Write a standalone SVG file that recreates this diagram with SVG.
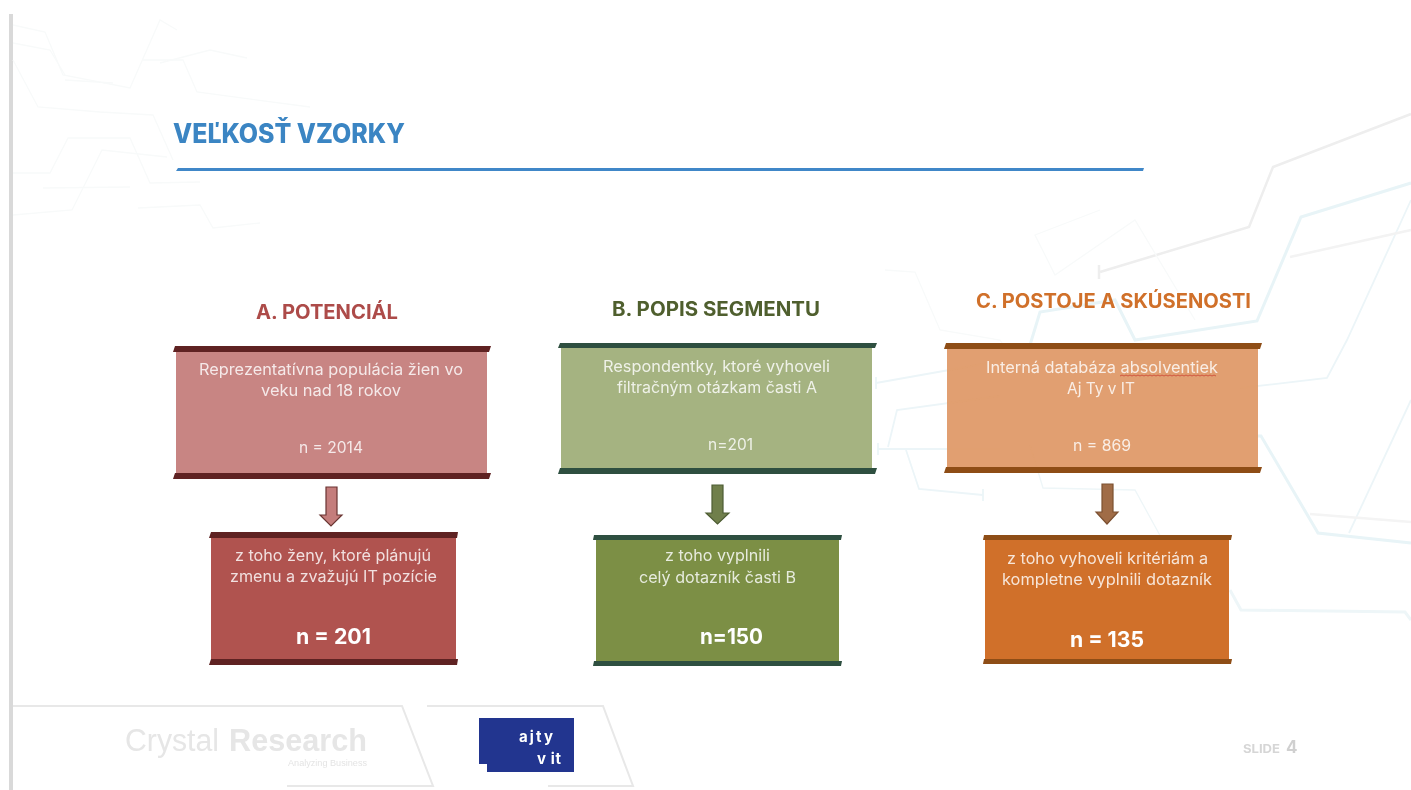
<svg xmlns="http://www.w3.org/2000/svg" width="1411" height="790" viewBox="0 0 1411 790">
<style>
text{font-family:"Inter","Liberation Sans",sans-serif}
.t{fill:#fff;fill-opacity:.82;font-size:15.5px}
.n{fill:#fff;font-size:21.5px;font-weight:700}
.h{font-size:19.500px;font-weight:700}
.l{font-family:"Liberation Sans",sans-serif;fill:#e6e6e6}
.bgb{fill:none;stroke:#e8f4f7;stroke-width:3}
.bgt{fill:none;stroke:#ecf5f8;stroke-width:1.8}
.bgg{fill:none;stroke:#eeeeee;stroke-width:2.5}
.faint{fill:none;stroke:#f8fafa;stroke-width:1.3}
.foot{fill:none;stroke:#e8e8e8;stroke-width:2}
.a{stroke-width:1.2}
</style>
<defs>
<filter id="soft" x="-2%" y="-2%" width="104%" height="104%"><feGaussianBlur stdDeviation="0.45"/></filter>
</defs>
<rect width="1411" height="790" fill="#fff"/>
<g filter="url(#soft)">
<g id="background">
<rect x="9" y="14" width="4" height="776" fill="#d9d9d9"/>
<polyline class="bgg" points="1100,272 1249,227 1273,167 1411,114"/>
<path class="bgg" d="M1099,265V279" stroke-width="4"/>
<polyline class="bgb" points="1411,183 1301,217 1257,321 1135,340 1115,300 1040,312 1030,345"/>
<polyline class="bgt" points="1411,200 1347,340 1327,378 1240,388" stroke-width="3"/>
<polyline class="bgt" points="876,383 1000,361" stroke-width="2.500"/>
<polyline class="bgt" points="1000,396 897,410 888,447" stroke-width="2.500"/>
<polyline class="bgt" points="878,449 1000,449" stroke-width="2.500"/>
<polyline class="bgb" stroke-width="2.500" points="1258,436 1261,436 1318,533 1411,543"/>
<polyline class="bgt" points="1349,533 1411,400"/>
<polyline class="faint" style="stroke:#f4f4f4;stroke-width:2.5" points="1310,514 1411,522"/>
<polyline class="bgb" style="stroke:#eef6f8" points="1230,590 1241,610 1405,612 1411,620"/>
<polyline class="bgt" points="906,450 919,489 983,495"/>
<path class="bgt" d="M983,489V501M876,377V389M878,443V455"/>
<polyline class="faint" style="stroke:#eef6f8" points="1030,445 1043,488 1135,490 1190,590"/>
<polyline class="faint" points="1100,210 1035,235 1055,275 1135,220 1195,320"/>
<polyline class="faint" points="885,270 915,272 940,330 1000,340 1010,355"/>
<polyline class="bgg" style="stroke:#f3f3f3" points="1290,257 1411,230"/>
<polyline class="faint" points="13,25 45,32 63,75 130,88 160,20 177,30"/>
<polyline class="faint" points="13,43 50,50 65,75"/>
<polyline class="faint" points="13,60 38,107 100,112 153,115 173,160"/>
<polyline class="faint" points="13,173 50,173 68,138 130,138 150,183 200,182"/>
<polyline class="faint" points="43,188 130,187"/>
<polyline class="faint" points="13,215 72,210 102,150 167,157"/>
<polyline class="faint" points="143,60 183,60 197,92 310,107"/>
<polyline class="faint" points="160,63 210,50 247,58"/>
<polyline class="faint" points="138,208 200,205 213,228 260,223"/>
<polyline class="faint" points="65,80 113,83"/>
</g>
<g id="title">
<text x="173" y="143" font-size="26.500" font-weight="800" fill="#3a85c3" textLength="232" lengthAdjust="spacingAndGlyphs">VEĽKOSŤ VZORKY</text>
<polygon points="178,168 1144,168 1143,171 176,171" fill="#3f87c8"/>
</g>
<g id="connectors">
<polygon class="a" points="326,487 337,487 337,515 342,515 331,526 320,515 326,515" fill="#c47d7b" stroke="#6a3533"/>
<polygon class="a" points="712,485 723,485 723,513 729,513 717.500,524 706,513 712,513" fill="#707f4c" stroke="#4d5c33"/>
<polygon class="a" points="1102,484 1113,484 1113,512 1118,512 1107,524 1096,512 1102,512" fill="#a06c47" stroke="#7c5030"/>
</g>
<g id="header-a"><text class="h" x="256" y="319" fill="#ad4c4a" textLength="142" lengthAdjust="spacingAndGlyphs">A. POTENCIÁL</text></g>
<g id="header-b"><text class="h" x="612" y="316" fill="#4f5f2e" textLength="208" lengthAdjust="spacingAndGlyphs">B. POPIS SEGMENTU</text></g>
<g id="header-c"><text class="h" x="976" y="308" fill="#d07029" textLength="275" lengthAdjust="spacingAndGlyphs">C. POSTOJE A SKÚSENOSTI</text></g>

<g id="node-a1">
<rect x="176" y="348" width="311" height="128" fill="#c88583"/>
<polygon points="175,346 491,346 489,352 173,352" fill="#5f2220"/>
<polygon points="175,473 491,473 489,479 173,479" fill="#5f2220"/>
<text class="t" x="199" y="375" textLength="264" lengthAdjust="spacingAndGlyphs">Reprezentatívna populácia žien vo</text>
<text class="t" x="261" y="396" textLength="140" lengthAdjust="spacingAndGlyphs">veku nad 18 rokov</text>
<text class="t" x="299" y="453" textLength="64" lengthAdjust="spacingAndGlyphs">n = 2014</text>
</g>
<g id="node-a2">
<rect x="211" y="534" width="245" height="128" fill="#b0524f"/>
<polygon points="211,532 458,532 457,538 209,538" fill="#5f2220"/>
<polygon points="211,659 458,659 457,665 209,665" fill="#5f2220"/>
<text class="t" x="235" y="561" textLength="196" lengthAdjust="spacingAndGlyphs">z toho ženy, ktoré plánujú</text>
<text class="t" x="230" y="582" textLength="207" lengthAdjust="spacingAndGlyphs">zmenu a zvažujú IT pozície</text>
<text class="n" x="296" y="644" textLength="75" lengthAdjust="spacingAndGlyphs">n = 201</text>
</g>

<g id="node-b1">
<rect x="561" y="345" width="311" height="126" fill="#a5b381"/>
<polygon points="560,343 877,343 875,348 558,348" fill="#2f5040"/>
<polygon points="560,468 877,468 875,474 558,474" fill="#2f5040"/>
<text class="t" x="603" y="372" textLength="227" lengthAdjust="spacingAndGlyphs">Respondentky, ktoré vyhoveli</text>
<text class="t" x="617" y="393" textLength="200" lengthAdjust="spacingAndGlyphs">filtračným otázkam časti A</text>
<text class="t" x="708" y="450" textLength="45" lengthAdjust="spacingAndGlyphs">n=201</text>
</g>
<g id="node-b2">
<rect x="596" y="537" width="243" height="127" fill="#7b8f45"/>
<polygon points="594,535 842,535 841,540 593,540" fill="#2f5040"/>
<polygon points="594,661 842,661 841,666 593,666" fill="#2f5040"/>
<text class="t" x="665" y="561" textLength="105" lengthAdjust="spacingAndGlyphs">z toho vyplnili</text>
<text class="t" x="639" y="583" textLength="157" lengthAdjust="spacingAndGlyphs">celý dotazník časti B</text>
<text class="n" x="700" y="644" textLength="63" lengthAdjust="spacingAndGlyphs">n=150</text>
</g>

<g id="node-c1">
<rect x="947" y="346" width="311" height="124" fill="#e09c6b" fill-opacity=".97"/>
<polygon points="946,343 1262,343 1260,349 944,349" fill="#8e4d17"/>
<polygon points="946,467 1262,467 1260,473 944,473" fill="#8e4d17"/>
<text class="t" x="986" y="373" textLength="232" lengthAdjust="spacingAndGlyphs">Interná databáza absolventiek</text>
<path d="M1120,376 l2,-1 2,1 2,-1 2,1 2,-1 2,1 2,-1 2,1 2,-1 2,1 2,-1 2,1 2,-1 2,1 2,-1 2,1 2,-1 2,1 2,-1 2,1 2,-1 2,1 2,-1 2,1 2,-1 2,1 2,-1 2,1 2,-1 2,1 2,-1 2,1 2,-1 2,1 2,-1 2,1 2,-1 2,1 2,-1 2,1 2,-1 2,1 2,-1 2,1 2,-1 2,1 2,-1 2,1" fill="none" stroke="#d0563f" stroke-width="1"/>
<text class="t" x="1067" y="394" textLength="68" lengthAdjust="spacingAndGlyphs">Aj Ty v IT</text>
<text class="t" x="1073" y="451" textLength="58" lengthAdjust="spacingAndGlyphs">n = 869</text>
</g>
<g id="node-c2">
<rect x="985" y="537" width="244" height="125" fill="#d0702a"/>
<polygon points="984,535 1232,535 1231,540 983,540" fill="#8e4d17"/>
<polygon points="984,659 1232,659 1231,664 983,664" fill="#8e4d17"/>
<text class="t" x="1007" y="564" textLength="201" lengthAdjust="spacingAndGlyphs">z toho vyhoveli kritériám a</text>
<text class="t" x="1002" y="585" textLength="210" lengthAdjust="spacingAndGlyphs">kompletne vyplnili dotazník</text>
<text class="n" x="1070" y="647" textLength="74" lengthAdjust="spacingAndGlyphs">n = 135</text>
</g>

<g id="footer">
<polyline class="foot" points="13,706 402,706 433,786 287,786"/>
<polyline class="foot" points="427,706 603,706 633,786 548,786"/>
<text class="l" x="125" y="751" font-size="31" textLength="94" lengthAdjust="spacingAndGlyphs">Crystal</text>
<text class="l" x="229" y="751" font-size="31" font-weight="700" textLength="138" lengthAdjust="spacingAndGlyphs">Research</text>
<text class="l" x="288" y="766" font-size="9" style="fill:#e4e4e4" textLength="79" lengthAdjust="spacingAndGlyphs">Analyzing Business</text>
<polygon points="479,718 574,718 574,772 487,772 487,764 479,764" fill="#21368f"/>
<text x="519" y="742" font-size="15" font-weight="700" fill="#fff" textLength="34">ajty</text>
<text x="537" y="764" font-size="15" font-weight="700" fill="#fff" textLength="24">v it</text>
<text x="1243" y="753" font-size="12" font-weight="700" fill="#d6d6d6" textLength="37" lengthAdjust="spacingAndGlyphs">SLIDE</text>
<text x="1286" y="753" font-size="17" font-weight="700" fill="#d0d0d0">4</text>
</g>
</g>
</svg>
